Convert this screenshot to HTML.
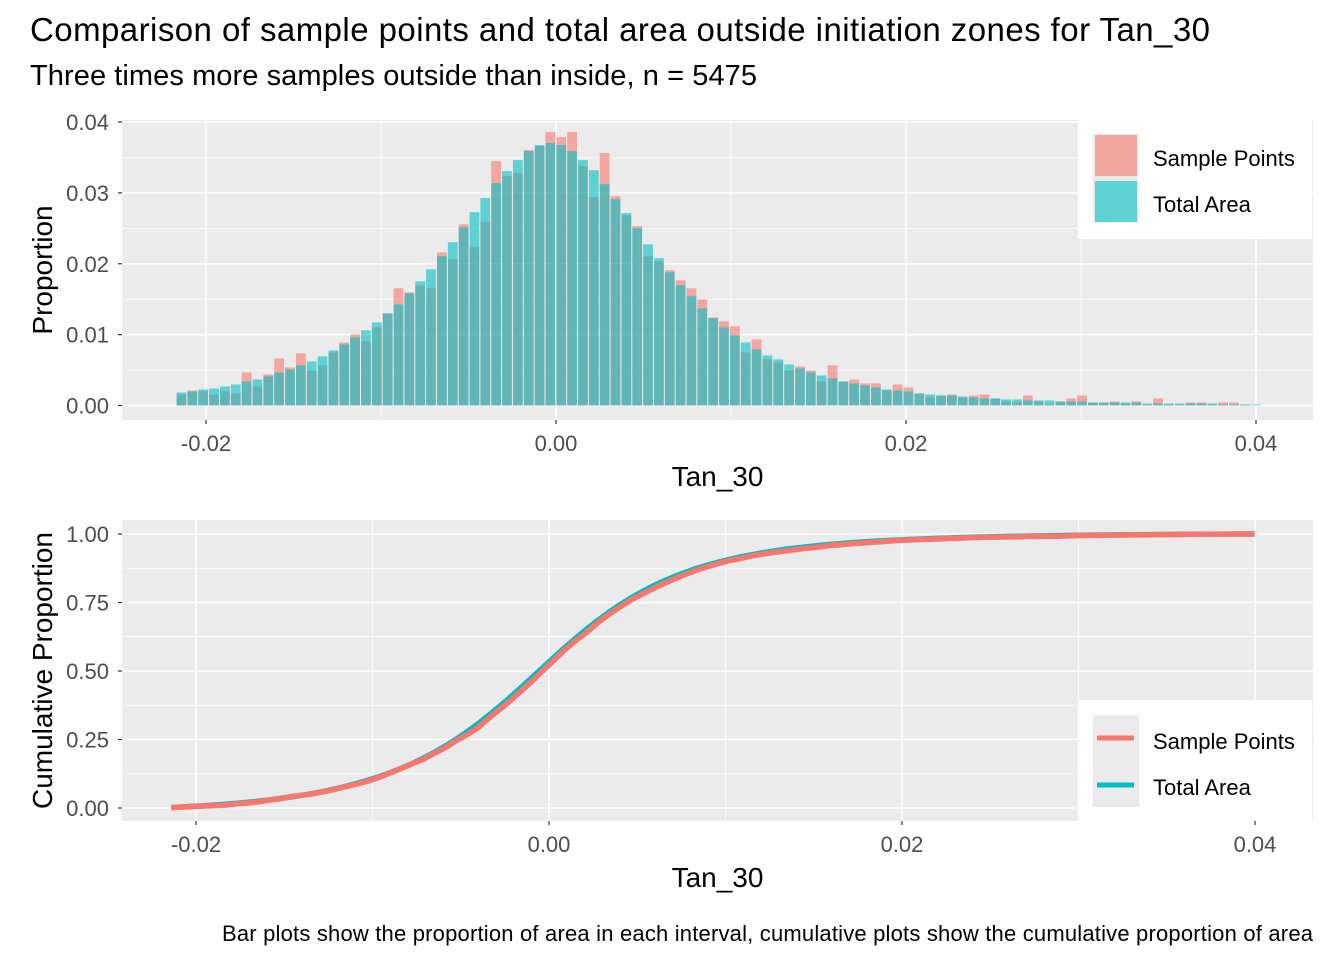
<!DOCTYPE html>
<html><head><meta charset="utf-8"><style>
body{margin:0;background:#fff;}
svg text{font-family:"Liberation Sans",Arial,sans-serif;}
</style></head><body>
<svg id="c" width="1344" height="960" xmlns="http://www.w3.org/2000/svg">
<text x="30" y="41" font-size="33" fill="#000" textLength="1180">Comparison of sample points and total area outside initiation zones for Tan_30</text>
<text x="30" y="85" font-size="29" fill="#000" textLength="727">Three times more samples outside than inside, n = 5475</text>
<g id="topPanel"></g>
<g id="botPanel"></g>
<text x="1313" y="941" font-size="22" text-anchor="end" fill="#000" textLength="1091">Bar plots show the proportion of area in each interval, cumulative plots show the cumulative proportion of area</text>
</svg>
<script>
const sampleVals=[15.5,21.2,19.8,15.5,19.8,17.0,46.6,26.9,43.8,66.4,53.7,73.5,49.5,56.5,74.9,89.0,100.3,90.5,110.2,130.0,165.4,159.7,169.6,165.4,216.2,206.3,255.8,223.3,258.6,344.8,323.6,327.9,360.4,366.0,385.8,378.8,385.8,337.8,294.0,356.2,295.4,268.5,253.0,210.6,203.5,190.8,176.7,165.4,149.8,124.4,118.7,111.7,74.9,93.3,65.0,60.8,49.5,55.1,49.5,33.9,56.5,33.9,36.7,31.1,31.1,21.2,29.7,25.4,17.0,11.3,14.1,15.5,11.3,14.1,15.5,9.9,5.7,4.2,14.1,5.7,1.4,5.7,9.9,14.1,4.2,4.2,5.7,2.8,5.7,0.9,9.9,1.4,0.5,4.2,4.2,1.4,4.2,4.2,1.4,0];
const totalVals=[18.4,19.8,22.6,24.0,26.9,29.7,33.9,36.7,41.0,46.6,50.9,56.5,62.2,69.3,77.7,86.2,96.1,106.0,117.3,130.0,142.7,158.3,175.3,192.2,210.6,230.4,251.6,272.8,292.6,313.8,330.7,346.3,359.0,367.5,370.3,367.5,359.0,346.3,332.1,312.3,291.1,271.4,250.2,227.5,207.8,188.0,169.6,154.1,137.1,123.0,110.2,98.9,89.0,79.1,70.7,65.0,57.9,52.3,46.6,42.4,38.2,33.9,31.1,28.3,25.4,22.6,21.2,19.8,17.0,15.5,14.1,14.1,12.7,11.3,9.9,9.9,8.5,8.5,7.1,7.1,7.1,5.7,5.7,5.7,4.2,4.2,4.2,4.2,4.2,2.8,2.8,2.8,2.8,2.8,2.8,2.8,1.4,1.4,1.4,1.4];
const binStart=-0.02171, binWidth=0.00062;
const topYTicks=["0.00","0.01","0.02","0.03","0.04"];
const xTickLabels=["-0.02","0.00","0.02","0.04"];
const botYTicks=["0.00","0.25","0.50","0.75","1.00"];
const NS="http://www.w3.org/2000/svg";
function mk(p,t,a){const e=document.createElementNS(NS,t);for(const k in a)e.setAttribute(k,a[k]);p.appendChild(e);return e;}
function panel(g,L,T,R,B,xs,ys,yticks,ytickVals,xminor,yminor,xtitle,ytitle,ttX){
  const bg=mk(g,'rect',{x:L,y:T,width:R-L,height:B-T,fill:'#ebebeb'});
  
  
  xminor.forEach(v=>mk(g,'line',{x1:xs(v),x2:xs(v),y1:T,y2:B,stroke:'#fff','stroke-width':0.7}));
  yminor.forEach(v=>mk(g,'line',{x1:L,x2:R,y1:ys(v),y2:ys(v),stroke:'#fff','stroke-width':0.7}));
  xTickLabels.forEach(s=>{const v=parseFloat(s);const x=xs(v);
    mk(g,'line',{x1:x,x2:x,y1:T,y2:B,stroke:'#fff','stroke-width':1.5});
    mk(g,'line',{x1:x,x2:x,y1:B,y2:B+4,stroke:'#333','stroke-width':1.2});
    const t=mk(g,'text',{x:x,y:B+31,'font-size':22,'text-anchor':'middle',fill:'#4d4d4d'});t.textContent=s;
    
    });
  yticks.forEach((s,i)=>{const y=ys(ytickVals[i]);
    mk(g,'line',{x1:L,x2:R,y1:y,y2:y,stroke:'#fff','stroke-width':1.5});
    mk(g,'line',{x1:L-4,x2:L,y1:y,y2:y,stroke:'#333','stroke-width':1.2});
    const t=mk(g,'text',{x:L-13,y:y+8,'font-size':22,'text-anchor':'end',fill:'#4d4d4d'});t.textContent=s;
    
    });
  const xt=mk(g,'text',{x:(L+R)/2+ttX,y:B+66,'font-size':28,'text-anchor':'middle',fill:'#000'});xt.textContent=xtitle;
  
  
  const yt=mk(g,'text',{x:0,y:0,'font-size':28,'text-anchor':'middle',fill:'#000',transform:`translate(52,${(T+B)/2}) rotate(-90)`});yt.textContent=ytitle;
  
  
}
const topG=document.getElementById('topPanel');
const tx=v=>556+v*17500, ty=v=>405.5-v*7087;
panel(topG,122,120,1313,420,tx,ty,topYTicks,[0,0.01,0.02,0.03,0.04],[-0.01,0.01,0.03],[0.005,0.015,0.025,0.035],'Tan_30','Proportion',0);
function bars(vals,color,name){
  vals.forEach((v,i)=>{const x0=binStart+i*binWidth;const a=tx(x0+binWidth*0.05),b=tx(x0+binWidth*0.95);
    const val=v/10000;const r=mk(topG,'rect',{x:a,y:ty(val),width:b-a,height:ty(0)-ty(val),fill:color,'fill-opacity':0.6});
    
    });
}
bars(sampleVals,'#F8766D','bar-sample-points');
bars(totalVals,'#00BFC4','bar-total-area');
mk(topG,'rect',{x:1078,y:119,width:234,height:120,fill:'#fff'});
mk(topG,'rect',{x:1093,y:134,width:45,height:89,fill:'#ebebeb'});
let k=mk(topG,'rect',{x:1095,y:135,width:42,height:41,fill:'#F8766D','fill-opacity':0.6});


k=mk(topG,'rect',{x:1095,y:181,width:42,height:41,fill:'#00BFC4','fill-opacity':0.6});


let lt=mk(topG,'text',{x:1153,y:166,'font-size':22,fill:'#000'});lt.textContent='Sample Points';


lt=mk(topG,'text',{x:1153,y:212,'font-size':22,fill:'#000'});lt.textContent='Total Area';


const botG=document.getElementById('botPanel');
const bx=v=>549+v*17650, by=v=>808-v*274;
panel(botG,122,520,1313,821,bx,by,botYTicks,[0,0.25,0.5,0.75,1],[-0.01,0.01,0.03],[0.125,0.375,0.625,0.875],'Tan_30','Cumulative Proportion',0);
function cum(vals,color,name){
  const tot=vals.reduce((a,b)=>a+b,0);let c=0;const pts=[];
  vals.forEach((v,i)=>{c+=v;pts.push(bx(binStart+i*binWidth+binWidth/2).toFixed(1)+','+by(c/tot).toFixed(1));});
  const p=mk(botG,'polyline',{points:pts.join(' '),fill:'none',stroke:color,'stroke-width':5.5,'stroke-linejoin':'round'});
  
  
}
cum(totalVals,'#00BFC4','line-total-area');
cum(sampleVals,'#F8766D','line-sample-points');
mk(botG,'rect',{x:1078,y:700,width:234,height:121,fill:'#fff'});
mk(botG,'rect',{x:1093,y:715,width:46,height:92,fill:'#ebebeb'});
k=mk(botG,'line',{x1:1097,x2:1134,y1:738,y2:738,stroke:'#F8766D','stroke-width':5});


k=mk(botG,'line',{x1:1097,x2:1134,y1:785,y2:785,stroke:'#00BFC4','stroke-width':5});


lt=mk(botG,'text',{x:1153,y:749,'font-size':22,fill:'#000'});lt.textContent='Sample Points';


lt=mk(botG,'text',{x:1153,y:795,'font-size':22,fill:'#000'});lt.textContent='Total Area';


</script>
</body></html>
